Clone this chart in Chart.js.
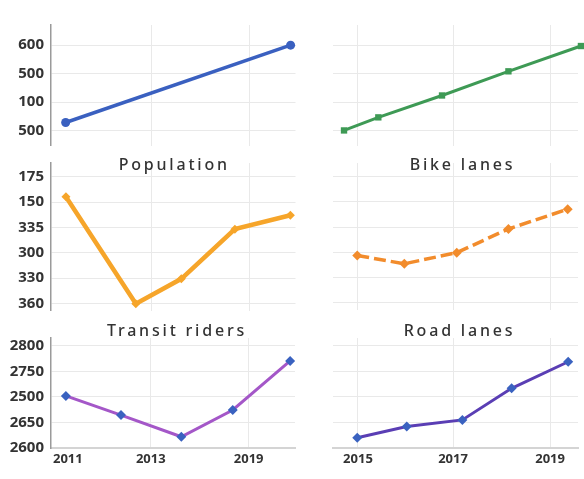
<!DOCTYPE html>
<html>
<head>
<meta charset="utf-8">
<script src="https://cdn.jsdelivr.net/npm/chart.js@4"></script>
<style>
  html, body { margin: 0; padding: 0; background: #ffffff; }
  body { width: 584px; height: 479px; position: relative; overflow: hidden; }
  .panel { position: absolute; }
</style>
</head>
<body>
<div class="panel" style="left:0;top:0;"><canvas id="c1" width="300" height="150"></canvas></div>
<div class="panel" style="left:300px;top:0;"><canvas id="c2" width="284" height="150"></canvas></div>
<div class="panel" style="left:0;top:150px;"><canvas id="c3" width="300" height="165"></canvas></div>
<div class="panel" style="left:300px;top:150px;"><canvas id="c4" width="284" height="165"></canvas></div>
<div class="panel" style="left:0;top:315px;"><canvas id="c5" width="300" height="164"></canvas></div>
<div class="panel" style="left:300px;top:315px;"><canvas id="c6" width="284" height="164"></canvas></div>
<script>
// ---- tick labels (as printed on the picture) ----
const yTicksRow1 = ['600', '500', '100', '500'];
const yTicksRow2 = ['175', '150', '335', '300', '330', '360'];
const yTicksRow3 = ['2800', '2750', '2500', '2650', '2600'];
const xLabelsLeft = ['2011', '2013', '2019'];
const xLabelsRight = ['2015', '2017', '2019'];
const xTickPosLeft = [0.69, 4.09, 8.1];
const xTickPosRight = [1.02, 4.9, 8.86];

// ---- panel titles ----
const titleRow2Left = 'Population';
const titleRow2Right = 'Bike lanes';
const titleRow3Left = 'Transit riders';
const titleRow3Right = 'Road lanes';

// ---- series (x position, value in tick-step units from the top tick) ----
const p1X = [0.6, 9.8];
const p1Y = [2.72, 0.0];
const p2X = [0.45, 1.85, 4.45, 7.16, 10.12];
const p2Y = [3.0, 2.54, 1.77, 0.92, 0.03];
const p3X = [0.61, 3.47, 5.33, 7.52, 9.79];
const p3Y = [0.79, 5.01, 4.03, 2.07, 1.52];
const p4X = [0.99, 2.91, 5.05, 7.16, 9.58];
const p4Y = [3.12, 3.45, 3.01, 2.07, 1.29];
const p5X = [0.61, 2.87, 5.34, 7.45, 9.8];
const p5Y = [1.96, 2.71, 3.56, 2.51, 0.59];
const p6X = [0.99, 3.01, 5.28, 7.29, 9.6];
const p6Y = [3.6, 3.16, 2.9, 1.66, 0.62];

const GRID = '#e9e9e9';
const TICK_FONT = { family: '"Noto Sans", "DejaVu Sans", sans-serif', size: 15, weight: 'bold' };
const XTICK_FONT = { family: '"Noto Sans", "DejaVu Sans", sans-serif', size: 13, weight: 'bold' };
const TITLE_FONT = { family: '"Noto Sans", "DejaVu Sans", sans-serif', size: 16, weight: '500' };

function spacedTitle(shift) {
  return {
    id: 'spacedTitle',
    afterInit(chart) {
      const tb = chart.titleBlock;
      if (!tb) return;
      const orig = tb.draw.bind(tb);
      tb.draw = function (area) {
        const ctx = chart.ctx;
        ctx.save();
        ctx.translate(shift || 0, 0);
        ctx.letterSpacing = '2.8px';
        orig(area);
        ctx.restore();
      };
    }
  };
}

function zip(xs, ys) { return xs.map((x, i) => ({ x: x, y: ys[i] })); }

function makePanel(id, cfg) {
  const isLeft = cfg.left;
  const yLabels = cfg.yLabels;
  const xPos = isLeft ? xTickPosLeft : xTickPosRight;
  const xLab = isLeft ? xLabelsLeft : xLabelsRight;
  new Chart(document.getElementById(id), {
    type: 'line',
    data: {
      datasets: [{
        data: zip(cfg.xs, cfg.ys),
        borderColor: cfg.line,
        borderWidth: cfg.lw,
        borderDash: cfg.dash || [],
        backgroundColor: cfg.marker,
        pointBackgroundColor: cfg.marker,
        pointBorderColor: cfg.marker,
        pointBorderWidth: 0,
        pointStyle: cfg.pointStyle,
        pointRadius: cfg.pr,
        tension: 0,
        fill: false,
        clip: false
      }]
    },
    plugins: [spacedTitle(cfg.titleShift)],
    options: {
      responsive: false,
      animation: false,
      devicePixelRatio: 1,
      layout: { padding: cfg.padding },
      plugins: {
        legend: { display: false },
        tooltip: { enabled: false },
        title: {
          display: !!cfg.title,
          text: cfg.title || '',
          fullSize: false,
          color: '#333333',
          font: TITLE_FONT,
          padding: cfg.titlePad || 0
        }
      },
      scales: {
        x: {
          type: 'linear',
          min: 0, max: 10,
          afterBuildTicks: s => { s.ticks = xPos.map(v => ({ value: v })); },
          afterFit: s => { s.height = cfg.xHeight; s.paddingLeft = 0; s.paddingRight = 0; },
          grid: {
            drawTicks: false,
            color: c => (isLeft && c.index === 0) ? 'rgba(0,0,0,0)' : GRID,
            lineWidth: 1
          },
          border: cfg.showX ? { display: true, color: '#d4d4d4', width: 2 } : { display: false },
          ticks: {
            display: !!cfg.showX,
            autoSkip: false,
            maxRotation: 0,
            padding: 3,
            color: '#333333',
            font: XTICK_FONT,
            callback: (v, i) => xLab[i]
          }
        },
        y: {
          type: 'linear',
          reverse: true,
          min: cfg.yMin, max: cfg.yMax,
          afterBuildTicks: s => { s.ticks = yLabels.map((_, i) => ({ value: i })); },
          afterFit: s => { s.width = isLeft ? 51 : 33; s.paddingTop = 0; s.paddingBottom = 0; },
          grid: { drawTicks: false, color: GRID, lineWidth: 1 },
          border: isLeft ? { display: true, color: '#9a9a9a', width: 1.5 } : { display: false },
          ticks: {
            display: isLeft,
            autoSkip: false,
            padding: 7,
            color: '#333333',
            font: TICK_FONT,
            callback: (v) => yLabels[Math.round(v)]
          }
        }
      }
    }
  });
}

// Row 1
makePanel('c1', { left: true, xs: p1X, ys: p1Y, yLabels: yTicksRow1, yMin: -0.71, yMax: 3.53,
  line: '#3a60c0', marker: '#3a60c0', lw: 3.5, pointStyle: 'circle', pr: 4.5,
  padding: { top: 25, right: 2, bottom: 2, left: 0 }, xHeight: 0, showX: false });
makePanel('c2', { left: false, xs: p2X, ys: p2Y, yLabels: yTicksRow1, yMin: -0.71, yMax: 3.53,
  line: '#3e9a55', marker: '#3e9a55', lw: 3, pointStyle: 'rect', pr: 4.5,
  padding: { top: 25, right: 6, bottom: 2, left: 0 }, xHeight: 0, showX: false });
// Row 2
makePanel('c3', { left: true, xs: p3X, ys: p3Y, yLabels: yTicksRow2, yMin: -0.54, yMax: 5.28,
  line: '#f6a52a', marker: '#f6a52a', lw: 4.5, pointStyle: 'rectRot', pr: 4.5,
  title: titleRow2Left, titlePad: { top: 5.4, bottom: -11.6 }, titleShift: 1,
  padding: { top: 0, right: 2, bottom: 0, left: 0 }, xHeight: 0, showX: false });
makePanel('c4', { left: false, xs: p4X, ys: p4Y, yLabels: yTicksRow2, yMin: -0.54, yMax: 5.28,
  line: '#f28c2c', marker: '#f28c2c', lw: 3.5, dash: [12, 5], pointStyle: 'rectRot', pr: 5,
  title: titleRow2Right, titlePad: { top: 5.4, bottom: -11.6 }, titleShift: 7,
  padding: { top: 0, right: 6, bottom: 0, left: 0 }, xHeight: 0, showX: false });
// Row 3
makePanel('c5', { left: true, xs: p5X, ys: p5Y, yLabels: yTicksRow3, yMin: -0.31, yMax: 4,
  line: '#a457c8', marker: '#3a62c0', lw: 3, pointStyle: 'rectRot', pr: 5,
  title: titleRow3Left, titlePad: { top: 6.4, bottom: -2.6 }, titleShift: 4,
  padding: { top: 0, right: 2, bottom: 0, left: 0 }, xHeight: 31, showX: true });
makePanel('c6', { left: false, xs: p6X, ys: p6Y, yLabels: yTicksRow3, yMin: -0.31, yMax: 4,
  line: '#5a3eb4', marker: '#3a62c0', lw: 3, pointStyle: 'rectRot', pr: 5,
  title: titleRow3Right, titlePad: { top: 6.4, bottom: -2.6 }, titleShift: 4,
  padding: { top: 0, right: 6, bottom: 0, left: 0 }, xHeight: 31, showX: true });
</script>
</body>
</html>
